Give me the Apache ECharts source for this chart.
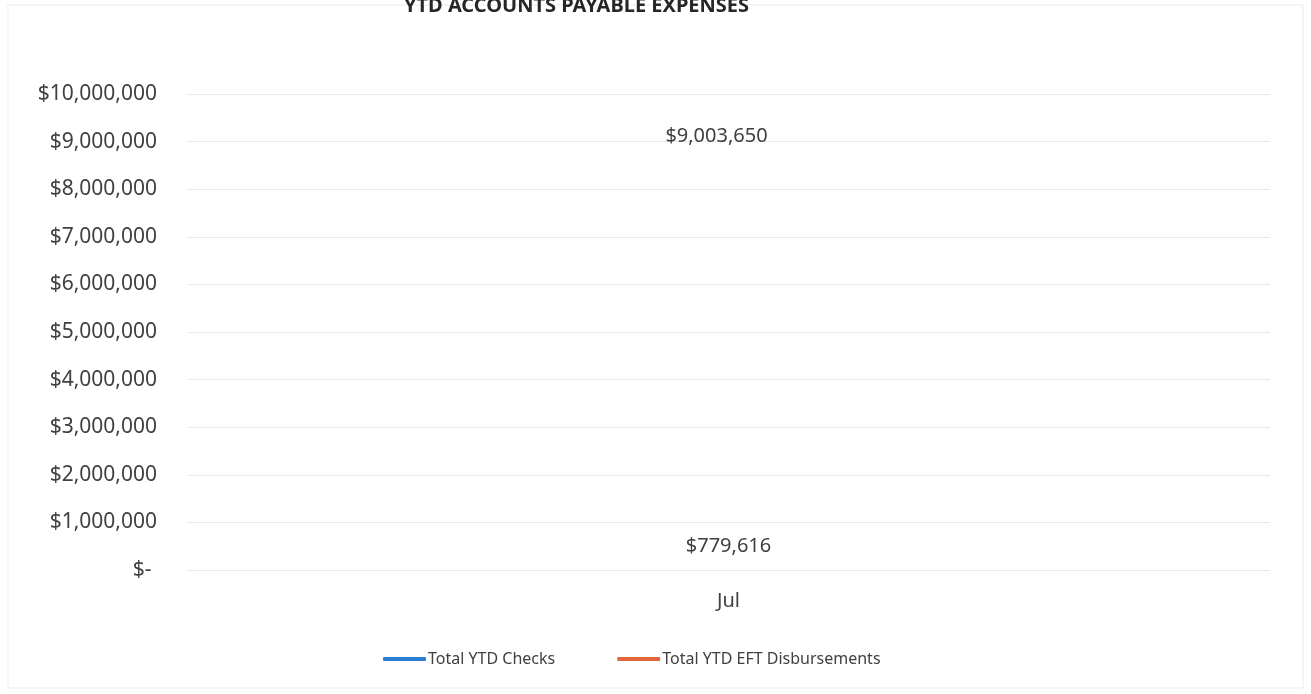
<!DOCTYPE html>
<html>
<head>
<meta charset="utf-8">
<script src="https://cdn.jsdelivr.net/npm/echarts@6/dist/echarts.min.js"></script>
<style>html,body{margin:0;padding:0;background:#fff;}#c{width:1311px;height:694px;}</style>
</head>
<body>
<div id="c"></div>
<script>
const titleText = 'YTD ACCOUNTS PAYABLE EXPENSES';
const categories = ['Jul'];
const seriesNames = ['Total YTD Checks', 'Total YTD EFT Disbursements'];
const checksValues = [9003650];
const eftValues = [779616];
const yMin = 0, yMax = 10000000, yInterval = 1000000;

const FONT = '"Noto Sans", sans-serif';
const TXT = '#404040';
function money(v) {
  if (v === 0) return '$- ';
  return '$' + Math.round(v).toLocaleString('en-US');
}
const chart = echarts.init(document.getElementById('c'));
chart.setOption({
  animation: false,
  backgroundColor: '#fff',
  textStyle: { fontFamily: FONT },
  title: {
    text: titleText, left: 399, top: -9,
    textStyle: { fontFamily: FONT, fontSize: 20, fontWeight: 'bold', color: '#262626' }
  },
  graphic: [{
    type: 'rect', shape: { x: 8, y: 5, width: 1295, height: 683 },
    style: { fill: 'none', stroke: '#ebebeb', lineWidth: 1 }, silent: true, z: -1
  }],
  grid: { left: 187, right: 41, top: 94, bottom: 694 - 570 },
  legend: {
    top: 646, left: 378,
    itemGap: 62, itemWidth: 43, itemHeight: 4,
    icon: 'roundRect',
    textStyle: { fontFamily: FONT, fontSize: 16, color: TXT, padding: [0, 0, 0, -3] },
    data: seriesNames
  },
  xAxis: {
    type: 'category', data: categories, boundaryGap: true,
    axisLine: { show: false }, axisTick: { show: false },
    axisLabel: { margin: 21, fontFamily: FONT, fontSize: 20, color: TXT }
  },
  yAxis: {
    type: 'value', min: yMin, max: yMax, interval: yInterval,
    axisLine: { show: false }, axisTick: { show: false },
    splitLine: { lineStyle: { color: '#e8e8e8', width: 1 } },
    axisLabel: { margin: 30, fontFamily: FONT, fontSize: 21, color: TXT, formatter: money }
  },
  series: [
    {
      name: seriesNames[0], type: 'line', data: checksValues,
      symbol: 'circle', symbolSize: 0.001,
      itemStyle: { color: '#2a7fd4' }, lineStyle: { color: '#2a7fd4', width: 4 },
      label: { show: true, position: 'top', offset: [-12, 10], fontFamily: FONT, fontSize: 20, color: TXT,
        formatter: p => money(p.value) }
    },
    {
      name: seriesNames[1], type: 'line', data: eftValues,
      symbol: 'circle', symbolSize: 0.001,
      itemStyle: { color: '#e0673c' }, lineStyle: { color: '#e0673c', width: 4 },
      label: { show: true, position: 'bottom', offset: [0, -2], fontFamily: FONT, fontSize: 20, color: TXT,
        formatter: p => money(p.value) }
    }
  ]
});
</script>
</body>
</html>
